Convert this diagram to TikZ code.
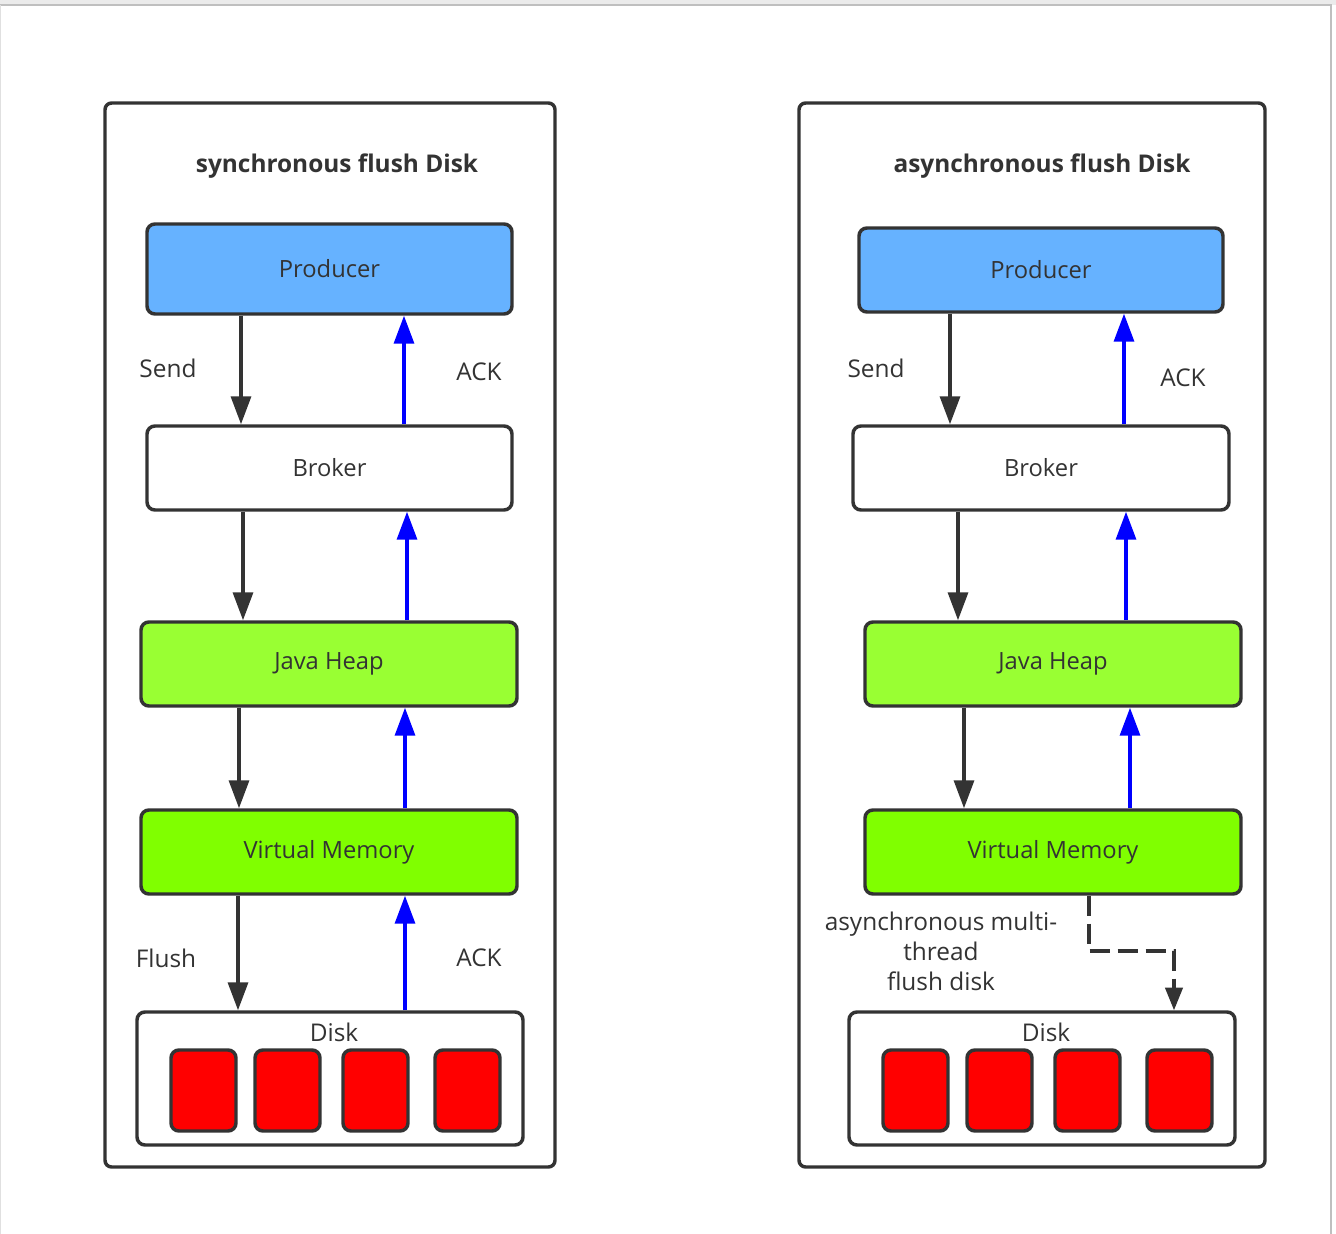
\documentclass[tikz,border=0pt]{standalone}
\usepackage{fontspec}
\setmainfont{Open Sans}
\usetikzlibrary{arrows.meta}
\definecolor{txt}{HTML}{333333}
\definecolor{ln}{HTML}{333333}
\definecolor{prod}{HTML}{66B2FF}
\definecolor{heap}{HTML}{99FF33}
\definecolor{vmem}{HTML}{80FF00}
\definecolor{dred}{HTML}{FF0000}
\definecolor{ackb}{HTML}{0000FF}
\tikzset{
  wh/.style 2 args={minimum width=#1*0.75pt, minimum height=#2*0.75pt},
  blk/.style={draw=ln, line width=2.6pt, rounded corners=6pt, inner sep=0pt, text=txt, font=\fontsize{17.8}{21}\selectfont},
  panel/.style={draw=ln, line width=2.6pt, rounded corners=5pt, inner sep=0pt},
  cell/.style={draw=ln, line width=2.6pt, rounded corners=6pt, fill=dred, inner sep=0pt, minimum width=48.75pt, minimum height=60.75pt},
  ttl/.style={text=txt, font=\bfseries\fontsize{18.3}{22}\selectfont},
  lbl/.style={text=txt, font=\fontsize{18.3}{22}\selectfont, inner sep=0pt},
  darr/.style={draw=ln, line width=2.5pt, -{Triangle[length=21pt,width=15pt]}},
  uarr/.style={draw=ackb, line width=2.5pt, -{Triangle[length=21pt,width=15pt]}},
  dsharr/.style={draw=ln, line width=2.5pt, dash pattern=on 15pt off 6pt, -{Triangle[length=17pt,width=13pt]}}
}
\begin{document}
\begin{tikzpicture}[x=0.75pt,y=-0.75pt]
\useasboundingbox (0,0) rectangle (1336,1234);
\fill[white] (0,0) rectangle (1336,1234);
% page frame
\fill[black!8] (0,0) rectangle (1336,5);
\draw[black!25, line width=1.2pt] (0,5) -- (1331,5) -- (1331,1234);
\draw[black!12, line width=0.8pt] (0.5,5) -- (0.5,1234);

% ================= left panel =================
\node[panel, wh={450}{1064}] (L) at (330,635) {};
\node[ttl] (Lt) at (337,166) {synchronous flush Disk};
\node[blk, fill=prod, wh={365}{90}] (Lp) at (329.5,269) {Producer};
\node[blk, fill=white, wh={365}{84}] (Lb) at (329.5,468) {Broker};
\node[blk, fill=heap, wh={376}{84}] (Lj) at (329,664) {Java Heap};
\node[blk, fill=vmem, wh={376}{84}] (Lv) at (329,852) {Virtual Memory};
\node[blk, fill=white, wh={386}{133}] (Ld) at (330,1078.5) {};
\node[lbl] (Ldt) at (334,1032) {Disk};
\node[cell] (Lc1) at (203.5,1090.5) {};
\node[cell] (Lc2) at (287.5,1090.5) {};
\node[cell] (Lc3) at (375.5,1090.5) {};
\node[cell] (Lc4) at (467.5,1090.5) {};

\coordinate (lx1) at (241,0);
\coordinate (lx2) at (404,0);
\coordinate (lx3) at (243,0);
\coordinate (lx4) at (407,0);
\coordinate (lx5) at (239,0);
\coordinate (lx6) at (405,0);
\coordinate (lx7) at (238,0);
\coordinate (lx8) at (405,0);
\draw[darr] (Lp.south -| lx1) -- (Lb.north -| lx1);
\draw[uarr] (Lb.north -| lx2) -- (Lp.south -| lx2);
\draw[darr] (Lb.south -| lx3) -- (Lj.north -| lx3);
\draw[uarr] (Lj.north -| lx4) -- (Lb.south -| lx4);
\draw[darr] (Lj.south -| lx5) -- (Lv.north -| lx5);
\draw[uarr] (Lv.north -| lx6) -- (Lj.south -| lx6);
\draw[darr] (Lv.south -| lx7) -- (Ld.north -| lx7);
\draw[uarr] (Ld.north -| lx8) -- (Lv.south -| lx8);

\node[lbl] (Ls) at (168,368) {Send};
\node[lbl] (La1) at (479,372) {ACK};
\node[lbl] (Lf) at (166,958) {Flush};
\node[lbl] (La2) at (479,958) {ACK};

% ================= right panel =================
\node[panel, wh={466}{1064}] (R) at (1032,635) {};
\node[ttl] (Rt) at (1042,166) {asynchronous flush Disk};
\node[blk, fill=prod, wh={364}{84}] (Rp) at (1041,270) {Producer};
\node[blk, fill=white, wh={376}{84}] (Rb) at (1041,468) {Broker};
\node[blk, fill=heap, wh={376}{84}] (Rj) at (1053,664) {Java Heap};
\node[blk, fill=vmem, wh={376}{84}] (Rv) at (1053,852) {Virtual Memory};
\node[blk, fill=white, wh={386}{133}] (Rd) at (1042,1078.5) {};
\node[lbl] (Rdt) at (1046,1032) {Disk};
\node[cell] (Rc1) at (915.5,1090.5) {};
\node[cell] (Rc2) at (999.5,1090.5) {};
\node[cell] (Rc3) at (1087.5,1090.5) {};
\node[cell] (Rc4) at (1179.5,1090.5) {};

\coordinate (rx1) at (950,0);
\coordinate (rx2) at (1124,0);
\coordinate (rx3) at (958,0);
\coordinate (rx4) at (1126,0);
\coordinate (rx5) at (964,0);
\coordinate (rx6) at (1130,0);
\draw[darr] (Rp.south -| rx1) -- (Rb.north -| rx1);
\draw[uarr] (Rb.north -| rx2) -- (Rp.south -| rx2);
\draw[darr] (Rb.south -| rx3) -- (Rj.north -| rx3);
\draw[uarr] (Rj.north -| rx4) -- (Rb.south -| rx4);
\draw[darr] (Rj.south -| rx5) -- (Rv.north -| rx5);
\draw[uarr] (Rv.north -| rx6) -- (Rj.south -| rx6);

\coordinate (dx1) at (1089,0);
\coordinate (dk1) at (1089,951);
\coordinate (dk2) at (1174,951);
\draw[dsharr] (Rv.south -| dx1) -- (dk1) -- (dk2) -- (Rd.north -| dk2);

\node[lbl] (Rs) at (876,368) {Send};
\node[lbl] (Ra1) at (1183,378) {ACK};
\node[lbl, align=center, font=\fontsize{18.3}{22.5}\selectfont] (Rm) at (941,951) {asynchronous multi-\\thread\\flush disk};
\end{tikzpicture}
\end{document}
